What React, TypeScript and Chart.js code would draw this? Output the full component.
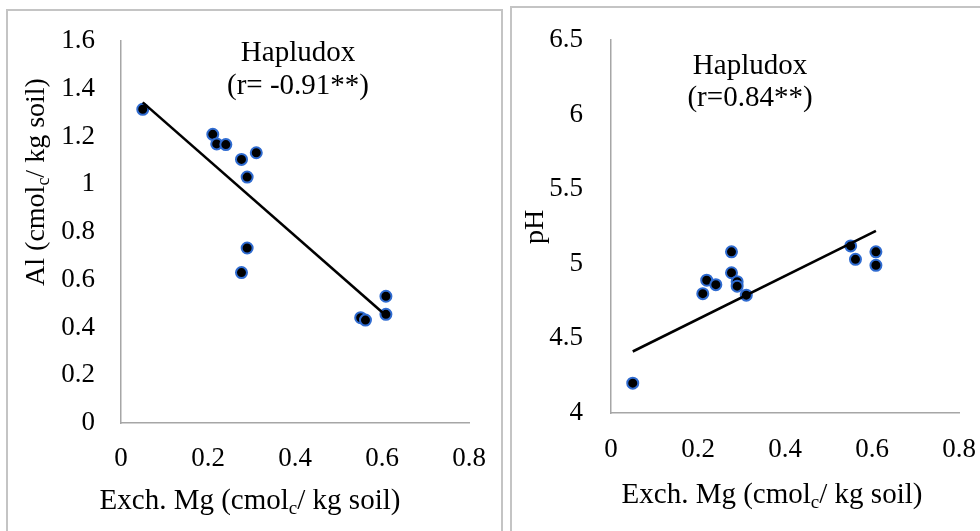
import React, { useEffect, useRef } from "react";
import { Chart, registerables } from "chart.js";

Chart.register(...registerables);

// ---- data ----
const mgValues = [0.05, 0.211, 0.22, 0.241, 0.277, 0.277, 0.29, 0.29, 0.311, 0.551, 0.562, 0.609, 0.609];
const alValues = [1.314, 1.209, 1.169, 1.166, 1.104, 0.63, 1.03, 0.733, 1.132, 0.441, 0.431, 0.531, 0.455];
const phValues = [4.2, 4.8, 4.89, 4.86, 5.08, 4.94, 4.88, 4.85, 4.79, 5.12, 5.03, 5.08, 4.99];

const alTrendX = [0.05, 0.609];
const alTrendY = [1.343, 0.45];
const phTrendX = [0.05, 0.609];
const phTrendY = [4.412, 5.221];

const xTicks = [0, 0.2, 0.4, 0.6, 0.8];
const alTicks = [0, 0.2, 0.4, 0.6, 0.8, 1, 1.2, 1.4, 1.6];
const phTicks = [4, 4.5, 5, 5.5, 6, 6.5];

const alNote = ["Hapludox", "(r= -0.91**)"];
const phNote = ["Hapludox", "(r=0.84**)"];
const xAxisTitle = ["Exch. Mg (cmol", "c", "/ kg soil)"];
const alAxisTitle = ["Al (cmol", "c", "/ kg soil)"];
const phAxisTitle = ["pH", "", ""];

const FONT = "'Liberation Serif', 'Times New Roman', serif";

type Layout = {
  width: number;
  height: number;
  padTop: number;
  padRight: number;
  yWidth: number;
  xHeight: number;
  yPad: number;
  xPad: number;
  note: { cx: number; y1: number; y2: number };
  xTitle: { cx: number; cy: number };
  yTitle: { cx: number; cy: number };
};

function drawParts(ctx: CanvasRenderingContext2D, parts: string[], size: number) {
  const main = `${size}px ${FONT}`;
  const sub = `${Math.round(size * 0.65)}px ${FONT}`;
  ctx.font = main;
  const w0 = ctx.measureText(parts[0]).width;
  const w2 = ctx.measureText(parts[2]).width;
  ctx.font = sub;
  const w1 = parts[1] ? ctx.measureText(parts[1]).width : 0;
  const total = w0 + w1 + w2;
  const base = size * 0.33;
  let x = -total / 2;
  ctx.textAlign = "left";
  ctx.textBaseline = "alphabetic";
  ctx.font = main;
  ctx.fillText(parts[0], x, base);
  x += w0;
  if (parts[1]) {
    ctx.font = sub;
    ctx.fillText(parts[1], x, base + size * 0.18);
    x += w1;
  }
  ctx.font = main;
  if (parts[2]) ctx.fillText(parts[2], x, base);
}

function makeTextPlugin(note: string[], xTitle: string[], yTitle: string[], lay: Layout) {
  return {
    id: "panelTexts",
    afterDraw(chart: any) {
      const ctx: CanvasRenderingContext2D = chart.ctx;
      ctx.save();
      ctx.fillStyle = "#000";
      ctx.font = `29px ${FONT}`;
      ctx.textAlign = "center";
      ctx.textBaseline = "middle";
      ctx.fillText(note[0], lay.note.cx, lay.note.y1);
      ctx.fillText(note[1], lay.note.cx, lay.note.y2);

      ctx.save();
      ctx.translate(lay.xTitle.cx, lay.xTitle.cy);
      drawParts(ctx, xTitle, 29);
      ctx.restore();

      ctx.save();
      ctx.translate(lay.yTitle.cx, lay.yTitle.cy);
      ctx.rotate(-Math.PI / 2);
      drawParts(ctx, yTitle, 28);
      ctx.restore();
      ctx.restore();
    },
  };
}

function buildConfig(
  yValues: number[],
  trendX: number[],
  trendY: number[],
  yTicks: number[],
  note: string[],
  yTitle: string[],
  lay: Layout
): any {
  const points = mgValues.map((x, i) => ({ x, y: yValues[i] }));
  const trend = trendX.map((x, i) => ({ x, y: trendY[i] }));
  const tickFont = { family: FONT, size: 27 };
  return {
    type: "scatter",
    data: {
      datasets: [
        {
          data: trend,
          showLine: true,
          borderColor: "#000",
          borderWidth: 2.6,
          pointRadius: 0,
          fill: false,
        },
        {
          data: points,
          backgroundColor: "#000",
          borderColor: "#2f6bd0",
          borderWidth: 2,
          pointRadius: 5.5,
        },
      ],
    },
    options: {
      responsive: false,
      animation: false,
      events: [],
      layout: { padding: { top: lay.padTop, right: lay.padRight, left: 0, bottom: 0 } },
      plugins: { legend: { display: false }, tooltip: { enabled: false }, title: { display: false } },
      scales: {
        x: {
          type: "linear",
          min: xTicks[0],
          max: xTicks[xTicks.length - 1],
          afterBuildTicks: (s: any) => {
            s.ticks = xTicks.map((v) => ({ value: v }));
          },
          afterFit: (s: any) => {
            s.height = lay.xHeight;
            s.paddingLeft = 0;
            s.paddingRight = 0;
          },
          grid: { display: false },
          border: { display: true, color: "#a6a6a6", width: 1.5 },
          ticks: { color: "#000", font: tickFont, padding: lay.xPad, maxRotation: 0, callback: (v: any) => String(v) },
        },
        y: {
          type: "linear",
          min: yTicks[0],
          max: yTicks[yTicks.length - 1],
          afterBuildTicks: (s: any) => {
            s.ticks = yTicks.map((v) => ({ value: v }));
          },
          afterFit: (s: any) => {
            s.width = lay.yWidth;
            s.paddingTop = 0;
            s.paddingBottom = 0;
          },
          grid: { display: false },
          border: { display: true, color: "#a6a6a6", width: 1.5 },
          ticks: { color: "#000", font: tickFont, padding: lay.yPad, callback: (v: any) => String(v) },
        },
      },
    },
    plugins: [makeTextPlugin(note, xAxisTitle, yTitle, lay)],
  };
}

const leftLayout: Layout = {
  width: 505,
  height: 531,
  padTop: 41,
  padRight: 36,
  yWidth: 121,
  xHeight: 108,
  yPad: 18,
  xPad: 12,
  note: { cx: 298, y1: 53, y2: 86 },
  xTitle: { cx: 250, cy: 499 },
  yTitle: { cx: 35, cy: 182 },
};

const rightLayout: Layout = {
  width: 475,
  height: 531,
  padTop: 40,
  padRight: 21,
  yWidth: 106,
  xHeight: 118,
  yPad: 20,
  xPad: 13,
  note: { cx: 245, y1: 66, y2: 98 },
  xTitle: { cx: 267, cy: 493 },
  yTitle: { cx: 29, cy: 227 },
};

function Panel(props: { cfg: () => any; lay: Layout; left: number }) {
  const ref = useRef<HTMLCanvasElement | null>(null);
  useEffect(() => {
    if (!ref.current) return;
    const chart = new Chart(ref.current, props.cfg());
    return () => chart.destroy();
  }, []);
  return (
    <canvas
      ref={ref}
      width={props.lay.width}
      height={props.lay.height}
      style={{ position: "absolute", left: props.left, top: 0, width: props.lay.width, height: props.lay.height }}
    />
  );
}

export default function App() {
  return (
    <div
      style={{
        position: "absolute",
        left: 0,
        top: 0,
        width: 980,
        height: 531,
        overflow: "hidden",
        background: "#fff",
      }}
    >
      <div
        style={{
          position: "absolute",
          left: 6,
          top: 9,
          width: 493,
          height: 560,
          borderLeft: "2px solid #c4c4c4",
          borderTop: "2px solid #c4c4c4",
          borderRight: "2px solid #c4c4c4",
        }}
      />
      <div
        style={{
          position: "absolute",
          left: 510,
          top: 6,
          width: 500,
          height: 560,
          borderLeft: "2px solid #c4c4c4",
          borderTop: "2px solid #c4c4c4",
        }}
      />
      <Panel
        left={0}
        lay={leftLayout}
        cfg={() => buildConfig(alValues, alTrendX, alTrendY, alTicks, alNote, alAxisTitle, leftLayout)}
      />
      <Panel
        left={505}
        lay={rightLayout}
        cfg={() => buildConfig(phValues, phTrendX, phTrendY, phTicks, phNote, phAxisTitle, rightLayout)}
      />
    </div>
  );
}
